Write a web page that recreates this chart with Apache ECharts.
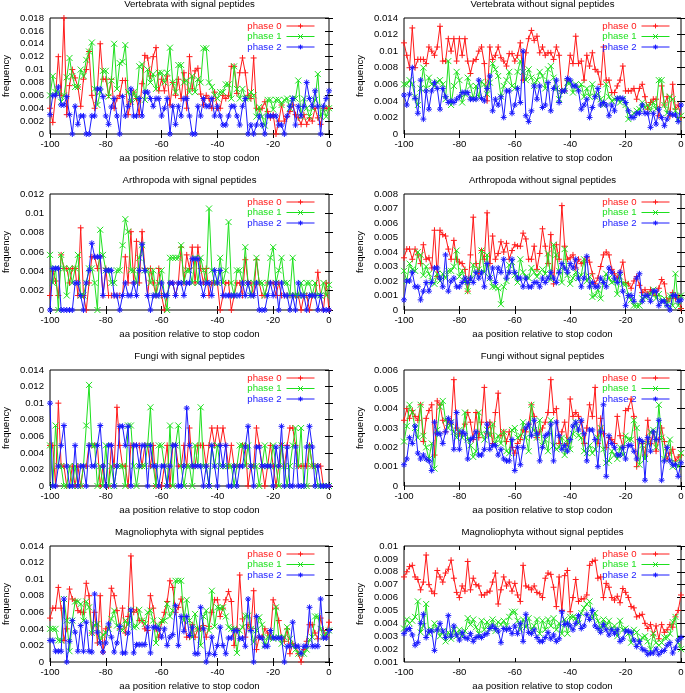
<!DOCTYPE html>
<html><head><meta charset="utf-8">
<script src="https://cdn.jsdelivr.net/npm/echarts@6/dist/echarts.min.js"></script>
<style>html,body{margin:0;padding:0;background:#fff}#c{width:685px;height:693px}</style>
</head><body><div id="c"></div>
<script>
// x positions (aa position relative to stop codon)
const positions = [];
for (let p = -100; p <= 0; p++) positions.push(p);
const xTickStep = 20;
const seriesNames = ['phase 0', 'phase 1', 'phase 2'];
const xTitle = 'aa position relative to stop codon';
const yTitle = 'frequency';

// values below are frequencies in units of 0.001 (per mille), index 0 = position -100
const vwsP0 = [4,1.8,6,12,6,18,3,7.5,10,8.7, 7.3,4.3,8.5,10,12.8,6,4,7,14,8.5, 8.5,6,8.5,4,5.5,6,8.3,8.3,3,5, 6.5,5.5,3,7.8,12.2,11.8,9,12,13.4,6.7, 8.5,6.7,9,4.5,8,6,8.5,5.5,9.5,4, 12,7,9.8,10.2,6.2,4.5,6,5.5,4,6.5, 4,4,6,5.5,6,10.5,10.5,6.3,9.5,11.8, 9.5,6,5.5,11.8,4,3.8,4,5,3.5,2.5, 3,0,2,4.5,2,2.7,3.5,4.5,3,2.5, 1.5,3,1.5,2.5,2,4,2.5,1.5,4,4, 4];
const vwsP1 = [6,9,6.5,6.5,5,6,8.8,11.8,9,7.3, 7.3,10,9,11.5,12.8,14.2,7,4.5,6.5,9.8, 9.8,5.8,8.3,14,7,11,11.2,13.8,6.5,5, 6.5,5.5,10.5,10.8,5.3,10,8,9.3,7,9.5, 9.5,8,9.5,13.4,8,6.5,10.7,10.7,8,8.3, 6.5,9,6.5,8.5,8,13.3,13.3,8,7.3,6, 5.5,6.5,6.5,7.7,7.7,5.5,10.5,7,5.5,7, 5.5,5.5,6.5,6,2.7,4.2,2.7,1.3,5.3,5.3, 3.8,5.3,5.3,4.5,5.3,5.5,4,5.5,5.5,8.3, 2.7,5.5,4,2.7,4,5.3,9.3,2.7,4,2.7, 4];
const vwsP2 = [3,6,6,7.3,4.5,4.5,5.8,3,0,4.3, 1.5,2.8,2.8,0,0,2.8,2.8,7,7,5.8, 2.8,1.5,4.2,5.5,2.8,0,5.8,2.8,4.3,7, 2.8,2.8,5.5,2.8,6.5,6.5,5.5,4.3,5.5,5.5, 2.8,4,5.5,0,4.3,1.5,4.3,2.8,5.5,5.5, 2.8,0,0,4.3,2.8,5.5,4.3,4.3,5.5,2.8, 4.3,2.8,1.4,1.4,2.8,4.3,4.3,2.8,1.4,4.3, 5.5,0,1.4,0,1.4,2.8,1.4,0,2.8,2.8, 2.8,2.8,1.4,1.4,0,2.8,4.3,5.5,1.4,4.3, 2.8,4.3,8,5.5,4.3,6.7,4.3,0,4.3,5.5, 6.7];

const vwoP0 = [11,9.5,8,12.8,8,9,9,9,8.5,10.5, 10,9.5,10.5,13,8.8,8.8,11.5,10,11.5,8.8, 11.5,9.5,11.5,8.8,7.3,8.8,9,10,10.5,8.5, 4,10.5,9,9.5,10.5,9.2,8.8,8.2,9.7,9.7, 8.8,9.5,11,6.5,9.8,11.5,12.5,11.3,11.8,9.8, 10.5,9.5,9.8,9.8,9,10.5,9.5,5.2,5.2,6.5, 9.5,8.5,11.8,8.5,8.8,6.5,9.5,8.2,9.8,7.8, 7.5,6,10.5,6.5,6.5,5,5,5.8,6.5,8.2, 5.2,5.2,5.2,5.5,4.2,5.5,6,4.5,3,3.8, 4.2,4.2,2.2,5.8,3.5,4.5,2.2,6,3,3.5, 2];
const vwoP1 = [6,6,6.5,6,4.5,3.5,5.5,8,5.5,6.8, 6,5.8,6.3,6.5,6,4.2,8.8,3.5,5.8,7.5, 6.5,3.8,4.8,6.8,5.8,4.3,5.8,4.5,6.3,6, 4.8,6.2,8.5,7.8,7,4.5,5.8,6.5,7.5,5.8, 5.5,7.5,8.8,7.5,6.5,7.8,6.8,5.8,6.5,7.5, 7,5.5,7.8,8.2,6.8,5.5,4.2,5.2,5.2,6.2, 6.2,5,6,5.5,6,4.5,5.5,4.5,6,4.5, 4.8,4.2,3.5,6,4.5,4,4.2,4.3,3.8,4.2, 3.5,1.8,2.2,2.5,2.8,3,3.8,3.2,3.5,2.8, 3.8,3,6.5,6.5,3.5,2.5,4.5,4.2,2.8,1.8, 2.2];
const vwoP2 = [4.7,3.5,4.8,8,4.3,2.5,6.5,1.8,5.2,3, 5.2,6.2,5.5,3,5.5,4.5,3.8,4,3.8,4.2, 4.5,5,5,5,4.2,4.2,4.2,6.5,4.3,4, 5.5,7,2.8,4.2,3.5,4.5,2,5.2,5.2,2.5, 3.5,5.5,3.8,10,2.2,1.5,2.8,5.8,4.2,5.8, 3.2,3.5,6.2,2.8,5.5,6.5,3.8,5.2,5.2,6.7, 6.5,5.8,5.8,5.2,3,3.5,4.2,2,3.2,4.5, 5.5,3.5,3.8,3.5,2.2,3.5,2.8,4.3,4.3,4.3, 3.8,2.8,2,2,2.5,2.5,3.5,2.5,2.5,0.8, 2.5,1.2,3,2,1,1.8,2.5,2.3,2.3,1.5, 3.5];

const awsP0 = [1.5,4,3,1.5,5.7,4.3,4.3,2.8,4.3,4.3, 1.5,8.5,1.5,0,2.8,5.5,5.5,4.3,5.5,1.5, 4.3,1.5,1.5,1.5,1.5,1.5,1.5,5.5,2.8,8.1, 2.8,7.1,2.8,8.1,4.3,1.5,4.3,2.8,1.5,4.3, 1.5,0,1.5,2.8,2.8,1.5,2.8,6.5,2.8,5.7, 4.3,6.5,2.8,6.5,4.3,2.8,4.3,1.5,2.8,2.8, 2.8,0,1.5,2.8,2.8,0,1.5,2.8,2.8,1.5, 5.2,2.8,2.8,1.5,5.2,2.8,1.5,1.5,2.8,2.8, 2.8,1.5,2.8,1.5,1.5,1.5,1.5,1.5,1.5,1.5, 0,1.5,1.5,0,1.5,1.5,3.9,1.5,0,2.8, 0];
const awsP1 = [5.7,2.8,4.3,0,5.7,4.3,1.5,4.3,2.8,4.3, 5.7,1.5,1.5,2.8,4.3,4.3,2.8,0,8.3,5.7, 4.1,4.1,2.8,2.8,4.1,4.1,6.7,9.4,8.1,4.1, 4.1,2.8,5.4,6.7,4.1,4.1,2.8,4.1,1.5,2.8, 4.1,1.5,0,5.4,5.4,5.4,5.4,6.7,2.8,4.1, 4.1,2.8,5.4,2.8,5.4,4.1,2.8,10.5,4.1,2.8, 2.8,5.4,2.8,4.1,9.1,2.8,1.5,4.1,4.1,2.8, 6.5,2.8,1.5,2.8,5.4,2.8,2.8,1.5,2.8,5.4, 6.5,2.8,4.1,5.4,2.8,2.8,1.5,5.4,1.5,1.5, 2.8,1.5,2.8,2.8,1.5,2.8,1.5,1.5,2.8,1.5, 2.6];
const awsP2 = [0,4.3,4.3,4.3,0,0,0,0,0,2.8, 2.8,1.5,0,2.8,4.1,6.9,5.5,5.5,5.5,1.5, 4.1,4.1,4.1,1.5,1.5,0,1.5,2.8,1.5,1.5, 2.8,1.5,4.1,6.8,4.1,1.5,0,1.5,1.5,1.5, 2.8,1.5,1.5,2.8,2.8,1.5,2.8,2.8,1.5,2.8, 2.8,5.3,5.3,5.3,2.8,1.5,2.8,2.8,1.5,4.1, 2.8,4.1,1.5,1.5,1.5,1.5,1.5,1.5,1.5,2.8, 1.5,2.8,1.5,1.5,2.8,0,0,0,1.5,2.8, 1.5,2.8,0,2.8,1.5,1.5,0,1.5,0,2.8, 1.5,1.5,0,1.5,1.5,1.5,0,1.5,0,0, 0];

const awoP0 = [3.6,4.2,4.2,3.5,4.2,3.8,3.2,4.5,3.5,3.6, 2.9,5.5,2.3,5.5,5.2,5.1,4.2,3.5,4.8,3.5, 3.3,3.2,2.8,1.3,3.8,6.4,3.2,2.5,4.1,3.5, 6.7,3.2,5.1,3.5,3.9,4.7,4,4.6,3.5,4.1, 4.5,4.4,4.4,5.3,4.9,3.5,3.5,4.4,2.8,3.9, 5.6,4.4,3.2,5.2,1.8,4.5,3.5,7.2,4.4,3.5, 3.6,3.8,2.9,3.5,3.2,3.3,3.6,3.3,2.5,1.8, 2.2,3,3.8,4,3.8,2.8,2.5,2.2,2.6,3.3, 1.9,1.8,1.5,2,2.3,1.7,1.2,1.4,1.1,1.4, 1.2,1,1.5,2.1,1.8,0.6,0.8,1.2,0.8,0.9, 0.1];
const awoP1 = [2.7,2,3.2,2.8,2.7,4,3.8,2.4,3,2.5, 2,1.8,2.5,2,2.5,2.2,2.7,2.7,3,4.1, 2.3,2.7,2,1.3,2.1,3.1,2.5,2.8,4.1,2.6, 3.8,2.2,1.6,1.6,1.5,0.4,1.6,2,3.1,3.3, 2.4,1.9,3.5,2.6,2.3,2.2,2.9,2.6,2.3,2.6, 2.8,2.5,3.9,2.1,4.5,3.8,2.7,1.9,4.2,2.4, 1.8,2.2,2.6,2.2,2.4,3.5,2,2.3,0.9,1, 1.4,0.8,2,2.5,2.2,1.9,2,1.1,2.3,1.8, 1.8,1,0.7,0.3,0.3,0.3,0.8,0.9,1,1.1, 1.4,0.8,1.1,0.6,0.8,0.4,1,0.3,2.5,0.3, 1];
const awoP2 = [0.7,2,2,2.6,1.6,1.6,0.7,1.3,1.9,1.3, 1.9,2.9,2.9,2.2,1.6,3.8,1.3,2,2.2,1.6, 1.6,1.9,2.2,1.9,2.2,1.9,2.6,2.2,2.6,1.6, 3.2,2.2,2.9,1.9,2.9,2.6,3.5,2.2,2.6,3.5, 2.6,2.2,2.2,1.6,2.2,1.6,1.6,1.9,1.9,1.6, 2.2,1.9,2.2,2.6,2.2,1.9,2.6,3.2,2.9,2.6, 3.2,2.9,3.5,2.2,1.6,2.2,3.7,1.6,1.9,1.6, 1.6,2.2,1.9,1.6,2.9,2.6,2.2,1.9,2.6,1.3, 0.3,1,1,0.6,2.2,2.5,0.6,1,1,0.6, 1.3,1.3,0.3,0.6,0.6,0.3,0,1,1,0.6, 0.7];

const fwsP0 = [4.9,4.9,0,10,2.4,2.4,0,0,2.4,0, 2.4,0,2.4,2.4,4.9,4.9,4.9,4.9,0,2.4, 0,0,4.9,2.4,9.5,4.9,2.4,2.4,0,4.9, 4.9,4.9,4.9,2.4,4.9,4.9,2.4,4.9,0,0, 0,2.4,4.9,0,4.9,4.9,2.4,2.4,4.9,2.4, 7,2.4,2.4,4.9,4.9,4.9,2.4,4.9,7,4.9, 7,4.9,7,4.9,2.4,4.9,2.4,2.4,2.4,4.9, 4.9,0,2.4,2.4,7,4.9,2.4,0,2.4,4.9, 2.4,0,2.4,4.9,2.4,4.9,7,7,4.9,2.4, 2.4,2.4,2.4,4.9,2.4,2.4,2.4,2.4,0,0, 0];
const fwsP1 = [4.9,0,7.3,2.4,2.4,0,0,2.4,0,2.4, 0,0,2.4,7.3,12.2,4.9,4.9,0,2.4,0, 4.9,0,2.4,0,2.4,2.4,2.4,0,7.3,7.3, 2.4,0,2.4,2.4,2.4,4.9,9.5,2.4,0,4.9, 4.9,2.4,0,7.3,0,4.9,7.3,2.4,0,2.4, 2.4,0,4.9,2.4,9.5,2.4,2.4,0,4.9,2.4, 4.9,2.4,2.4,2.4,2.4,2.4,0,2.4,4.9,4.9, 2.4,4.9,2.4,2.4,2.4,0,2.4,4.9,2.4,2.4, 4.9,2.4,0,4.9,2.4,0,2.4,4.9,7,2.4, 7,0,0,4.9,2.4,2.4,0,0,0,0, 0];
const fwsP2 = [10,0,0,2.4,4.9,7.3,2.4,0,0,4.9, 0,2.4,2.4,0,4.9,2.4,2.4,4.9,7.3,2.4, 0,4.9,4.9,0,2.4,7.2,7.2,4.9,7.2,0, 4.9,4.9,2.4,4.9,4.9,0,4.9,2.4,2.4,0, 2.4,2.4,0,2.4,4.9,4.9,0,0,2.4,9.4, 4.9,2.4,2.4,2.4,2.4,0,2.4,0,4.9,2.4, 0,4.9,2.4,4.9,0,0,2.4,0,2.4,2.4, 4.7,7.2,2.4,0,4.7,4.7,2.4,2.4,2.4,2.4, 0,4.7,2.4,7.2,0,4.7,0,0,4.7,0, 0,0,4.7,7.2,4.7,0,2.4,0,0,0, 0];

const fwoP0 = [3.4,4,3.5,3.9,3.6,3.4,4.2,2.3,3.5,3.9, 4.2,1.6,4.4,4.2,3.4,2.8,3.4,3.2,5.5,3, 2.7,2.7,3.2,3.8,3.3,2.4,3.8,2.5,3.3,5.1, 2.7,3.3,2.2,3.8,4.8,2.6,2.8,2.3,2.8,2, 1.7,2.2,2.4,2.9,2.8,3.2,4.2,3.6,2.5,2.8, 3,3.3,3.8,5.5,3.8,4,2.2,2.8,3.3,2.2, 4.5,3.6,3.8,3.6,3.3,2.2,3,4.2,3.6,5.1, 2.2,3.5,2.7,2,2.5,2.4,2.2,3.6,2.6,2, 3.9,4,4.5,3.6,1,2.4,2.2,1.6,3.4,2.2, 2.8,1.8,2.4,3,2.3,1.4,1.7,1.9,1.3,1.5, 1.6];
const fwoP1 = [2.3,3.1,4.2,3.8,3,2.5,4.2,2.6,2,1.4, 2.2,0.9,2.9,4.1,4.4,3.4,3,3.3,2.8,2.5, 2.9,2.5,3.8,2.4,2.1,1.5,1.8,3.8,2.7,2.4, 2.9,2.6,3.2,2.2,2.6,2.2,2.8,1.8,1.7,2.9, 3,2.5,2.6,3.3,2.5,1.8,4.2,2.9,2.5,3.4, 2.1,2.4,1.8,3.4,2.1,1.9,2,2.5,1.6,2.4, 1.9,2.7,3.3,2.6,2.5,1.8,1.7,2.1,1.7,1.9, 2.5,3,1.9,1.2,1.3,1.8,1.6,1.4,2,1.6, 2.6,2.4,2.4,3.4,3,1.1,2.1,1.4,2.2,2.8, 2.9,2,4.2,2.5,1.4,2,2.4,1,1.2,1, 1.7];
const fwoP2 = [1.1,1.4,2.5,2.2,3.1,1.7,1.4,1.6,1.4,1.3, 0.8,3.3,2.7,2.7,2.2,2.8,3.5,3.3,1.9,3.8, 1.9,2.8,2.7,1.4,2.4,2.5,2.8,1.6,1.6,1.9, 3.2,1.9,2.1,2.1,1.6,1.9,1.4,1.3,1.3,2.4, 0.8,2,1.1,2,3,3.2,2.6,3.4,2.7,1.3, 2,2.6,2.7,3.2,1.3,3.3,2.6,1.9,2.1,1.8, 2.4,3.1,3.3,2.9,3.4,2.7,1.3,2.9,2.9,2.4, 1,2.8,4.2,0.5,2.6,2.2,2,1.6,1.6,2, 1.4,2.1,2.1,1.8,1.4,2.4,2.3,0.3,2.5,1.8, 2.8,2.4,3.4,0.3,1.3,2,1.3,1.1,1.1,0.5, 1.2];

const mwsP0 = [5.3,6.5,6.5,9,6.5,2.6,4,8.8,7.6,7.4, 6.2,6,6,9.5,8,3.5,6,2.3,8,1.2, 4,4.2,8.9,8,6.2,4,6.5,3.5,5.5,12.8, 6,6.3,5,5,4,3.8,8,6.5,4,3, 4.8,6,7.3,9.8,9,6,6.6,7.6,5.5,3, 3,4.5,3,4,4,4.4,3,4.3,6,7.5, 7.5,5.5,6.5,7.5,8.5,7.3,2,4,10.5,5.2, 3,4.5,4,8.6,1.5,3,3,4,3.5,3, 7.5,6.5,5,3,2.5,4,1,2.2,2,1, 0,1.5,2.5,4.5,4.5,3.5,2.8,5.3,3.8,3, 4.8];
const mwsP1 = [4,4,4,2.6,2.6,7.6,5,1.3,5,7.3, 7.3,7,5,7.3,6.6,3.5,4.5,4.6,2.6,3.3, 3.5,4,5.2,6.2,4.4,4.1,3.8,5,4.5,6.3, 4.2,4.3,6.3,5,4.6,6,6.2,5,2.3,4.4, 5,5,7,5.5,6.2,9.8,9.8,9.8,5,7.5, 5,3,5.8,4,2,5.5,6.2,3.8,8.6,4.3, 6.6,6.5,6.6,5.5,4.2,4,4,1.1,3.8,4.2, 5.6,5.6,4,2.4,3.8,5.4,4.5,2,3,3, 2.8,6.6,3,2.2,3,4.2,2.8,2,1.5,1, 1,1,1.5,2.7,3,5.5,5.5,4,3,3.5, 3.8];
const mwsP2 = [2.6,2.6,1.3,1.3,1.3,7.6,0,2.5,5,3.6, 1.3,4.4,1.3,4.8,1.3,1.2,8.2,3.6,2.3,1.2, 2.3,4.6,3,1.2,2.3,4.3,1.1,1.1,3.5,6.3, 1.1,2.1,2.1,2.1,2.1,4.2,1.1,4.2,4.2,4, 3,4,2,3,3.3,6.8,2,5.5,3.7,5.5, 3.2,4.2,1,1,6.6,4,0,1,3,0.9, 2,4.2,2,1,2.9,2.9,3.8,3.8,2.8,2.9, 1.9,7.6,3.8,0,5.5,3,2.9,1.9,1.9,3.8, 2.9,2.9,2.9,2.9,0,1.9,1.9,4.8,1.9,1.9, 1,1.9,1.9,6.6,1.9,1.9,1.9,7.6,2.9,2.9, 3.8];

const mwoP0 = [7.6,8,8.4,8.5,7.6,7.4,6.6,7.2,9.3,7, 6.5,6.3,8.1,7.6,7.2,7.9,8.2,8.9,7.5,6.4, 6,6.9,6.5,8.8,6.6,7.5,7,6.9,6.2,6.2, 6.4,6.5,7.2,7.9,5.5,6.6,7.6,6.9,7.2,6.5, 7.1,6.2,5.7,8.5,6.9,6.8,6.6,6.9,6.4,6.3, 6,7.5,7.9,7.8,6.8,5.3,7.6,5,7.7,8.1, 4.9,6,7.4,5.7,5.9,5.9,6.2,8.5,8.8,8.9, 7.5,7.6,6,7.1,6.8,6,5.8,6.1,5.6,6.7, 6.4,6,5.3,5.2,4.5,4.6,4.7,4,3.6,3.9, 3.1,3.8,2.8,3.9,3.3,3.5,3.9,3.7,4.5,5, 6.2];
const mwoP1 = [3.6,4.3,4,4.2,4.5,5.7,3.3,3.8,5.5,3.2, 3.5,4,3.6,3,3.4,2.6,3.3,2.8,3.5,3, 3.5,3,3.4,4.4,3.9,4.3,3.7,3.2,4.2,3.5, 4.1,3.6,4.3,3.4,4.1,3.9,4.2,3.8,4.5,4.9, 4.9,4.2,3.5,4.3,3.7,4.4,3.5,3.8,4.3,3.2, 4.2,3.5,4.3,3.8,4.4,3.5,4,3.2,4.3,3.2, 4.5,4.5,4.4,4,4.8,5.2,5.5,5.7,4.4,4.8, 4.2,3.6,4.3,3.8,4.2,3.6,3.8,3,4.2,3.5, 3.6,3.2,2.5,3.5,3.3,2.5,2.9,3,2.6,2, 3.2,2.5,2.3,2.5,2.9,2.9,3.2,4.1,4.5,2.5, 2];
const mwoP2 = [3.2,3.5,3.6,3.1,2.3,2.5,4,4.7,2.9,3.4, 3.4,1.9,3.5,4,3.4,2.9,4.6,3,3.8,3.1, 2.7,3.3,2.9,2.8,3.2,2.6,2.9,3,2.9,3.1, 3.2,3.6,3.8,3.6,3.4,2.5,3.6,3.5,3.6,3.2, 3.8,3.2,4,2.6,4.7,3.3,3.2,3.5,2.9,2.6, 2.6,2.9,3.3,2.8,3.1,2.6,2.8,4.9,3.9,4, 3.8,3.5,4,4.6,3.6,3.8,4.7,4.3,5,3.8, 3.6,3.3,3.9,3.5,3.1,3.5,3.2,3.5,2.6,2.8, 3.4,3.4,3.3,2.7,2.2,2.6,2,1.9,1.6,1.7, 1.7,2,1.6,1.8,1.9,2.3,2.5,1.7,2.1,2.7, 2.9];

const panelTitles = [
  'Vertebrata with signal peptides', 'Vertebrata without signal peptides',
  'Arthropoda with signal peptides', 'Arthropoda without signal peptides',
  'Fungi with signal peptides', 'Fungi without signal peptides',
  'Magnoliophyta with signal peptides', 'Magnoliophyta without signal peptides'
];
const panelSeries = [
  [vwsP0, vwsP1, vwsP2], [vwoP0, vwoP1, vwoP2],
  [awsP0, awsP1, awsP2], [awoP0, awoP1, awoP2],
  [fwsP0, fwsP1, fwsP2], [fwoP0, fwoP1, fwoP2],
  [mwsP0, mwsP1, mwsP2], [mwoP0, mwoP1, mwoP2]
];
const yMin = [0, 0, 0, 0, 0, 0, 0, 0.001];
const yMax = [0.018, 0.014, 0.012, 0.008, 0.014, 0.006, 0.014, 0.01];
const yStep = [0.002, 0.002, 0.002, 0.001, 0.002, 0.001, 0.002, 0.001];

// layout / style
const colLeft = [50, 404], colWidth = [279, 277];
const rowTop = [18, 194, 370, 546], plotH = 116;
const colors = ['#ff1a1a', '#1ee01e', '#1a1aff'];
const symbols = [
  'path://M5 0L5 10M0 5L10 5',
  'path://M0 0L10 10M10 0L0 10',
  'path://M5 0L5 10M0 5L10 5M1.5 1.5L8.5 8.5M8.5 1.5L1.5 8.5'
];
const FONT = 'Liberation Sans, Arial, Helvetica, sans-serif';
const FS = 9.6;

const option = {
  animation: false,
  backgroundColor: '#fff',
  textStyle: { fontFamily: FONT },
  grid: [], xAxis: [], yAxis: [], legend: [], series: [], graphic: []
};

panelTitles.forEach((title, k) => {
  const col = k % 2, row = Math.floor(k / 2);
  const left = colLeft[col], width = colWidth[col], top = rowTop[row];
  option.grid.push({ left, top, width, height: plotH, show: true, borderColor: '#000', borderWidth: 1,
    backgroundColor: 'rgba(0,0,0,0)', containLabel: false, outerBoundsMode: 'none' });
  const tick = { show: true, inside: true, length: 4, lineStyle: { color: '#000', width: 1 } };
  option.xAxis.push({ type: 'value', gridIndex: k, min: -100, max: 0, interval: xTickStep, position: 'bottom',
    axisLine: { show: false }, axisTick: tick, splitLine: { show: false },
    axisLabel: { margin: 5, fontSize: FS, color: '#000', fontFamily: FONT },
    name: xTitle, nameLocation: 'middle', nameGap: 19,
    nameTextStyle: { fontSize: FS, color: '#000', fontFamily: FONT } });
  option.xAxis.push({ type: 'value', gridIndex: k, min: -100, max: 0, interval: xTickStep, position: 'top',
    axisLine: { show: false }, axisTick: tick, splitLine: { show: false }, axisLabel: { show: false } });
  option.yAxis.push({ type: 'value', gridIndex: k, min: yMin[k], max: yMax[k], interval: yStep[k], position: 'left',
    axisLine: { show: false }, axisTick: tick, splitLine: { show: false },
    axisLabel: { margin: 6, fontSize: FS, color: '#000', fontFamily: FONT },
    name: yTitle, nameLocation: 'middle', nameGap: 39, nameRotate: 90,
    nameTextStyle: { fontSize: FS, color: '#000', fontFamily: FONT } });
  option.yAxis.push({ type: 'value', gridIndex: k, min: yMin[k], max: yMax[k], interval: yStep[k], position: 'right',
    axisLine: { show: false }, axisTick: tick, splitLine: { show: false }, axisLabel: { show: false } });

  option.graphic.push({ type: 'text', x: left + width / 2, y: top - 14, silent: true,
    style: { text: title, fill: '#000', font: FS + 'px ' + FONT, align: 'center', verticalAlign: 'middle' } });

  option.legend.push({
    orient: 'vertical', align: 'right', selectedMode: false, padding: 0,
    right: col === 0 ? 370 : 15, top: top + 3,
    itemWidth: 28, itemHeight: 6, itemGap: 0.5,
    lineStyle: { width: 1 },
    itemStyle: { borderWidth: 1 },
    textStyle: { fontSize: FS, fontFamily: FONT, lineHeight: 10 },
    data: seriesNames.map((n, j) => ({ name: n, textStyle: { color: colors[j] } }))
  });

  panelSeries[k].forEach((vals, j) => {
    option.series.push({
      name: seriesNames[j], type: 'line', xAxisIndex: 2 * k, yAxisIndex: 2 * k,
      data: positions.map((p, i) => [p, vals[i] / 1000]),
      symbol: symbols[j], symbolSize: 6, showSymbol: true, showAllSymbol: true,
      lineStyle: { color: colors[j], width: 1 },
      itemStyle: { color: colors[j], borderColor: colors[j], borderWidth: 1 },
      emphasis: { disabled: true }, z: 2 + j
    });
  });
});

const chart = echarts.init(document.getElementById('c'), null, { renderer: 'canvas' });
chart.setOption(option);
</script>
</body></html>
